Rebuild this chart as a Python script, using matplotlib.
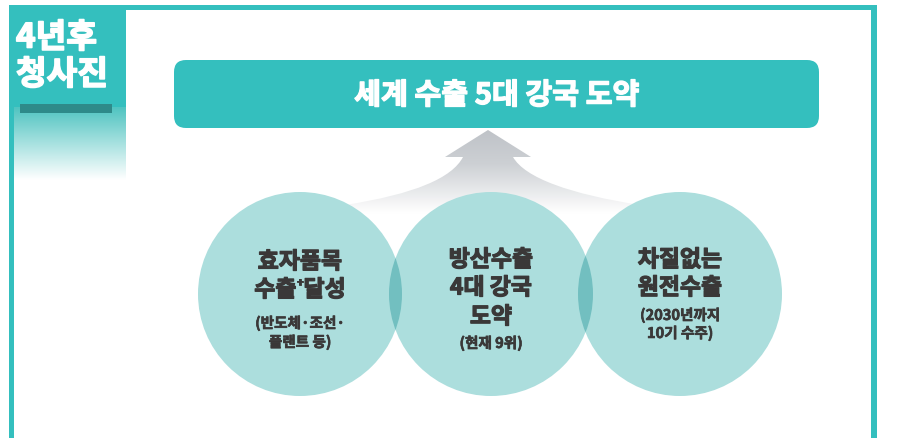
import numpy as np
import matplotlib
matplotlib.use("Agg")
import matplotlib.pyplot as plt
from matplotlib.patches import Rectangle, FancyBboxPatch, Circle, PathPatch
from matplotlib.path import Path
import matplotlib.patheffects as pe

plt.rcParams['font.family'] = ['Noto Sans CJK KR', 'DejaVu Sans']

# ---- content ----
corner_label = ["4년후", "청사진"]
title_text = "세계 수출 5대 강국 도약"
circle_main = [["효자품목", "수출⁺달성"],
               ["방산수출", "4대 강국", "도약"],
               ["차질없는", "원전수출"]]
circle_sub = [["(반도체·조선·", "플랜트 등)"],
              ["(현재 9위)"],
              ["(2030년까지", "10기 수주)"]]

TEAL = "#34bfbe"
DARK = "#3a3838"
CIRC = (172/255, 222/255, 221/255)
OVER = (114/255, 191/255, 192/255)

fig = plt.figure(figsize=(9.01, 4.38), dpi=100)
ax = fig.add_axes([0, 0, 1, 1])
ax.set_xlim(0, 901)
ax.set_ylim(438, 0)
ax.axis('off')


def heavy(color, w=0.9):
    return [pe.withStroke(linewidth=w, foreground=color)]


# frame
ax.add_patch(Rectangle((9, 5), 868, 5, color=TEAL, lw=0))
ax.add_patch(Rectangle((9, 5), 5, 440, color=TEAL, lw=0))
ax.add_patch(Rectangle((871, 5), 6, 440, color=TEAL, lw=0))

# corner block with gradient
ax.add_patch(Rectangle((9, 5), 117, 102, color=TEAL, lw=0))
n = 100
t = np.linspace(0, 1, n)[:, None]
c0 = np.array([80, 196, 193]) / 255
grad = (1 - t) * c0 + t * np.array([1, 1, 1])
grad = np.repeat(grad[:, None, :], 2, axis=1)
ax.imshow(grad, extent=(14, 126, 180, 107), origin='upper', aspect='auto',
          interpolation='bilinear', zorder=1)
ax.add_patch(Rectangle((20, 104), 92, 9, color="#2e8a89", lw=0, zorder=2))
ax.text(16, 38, corner_label[0], color='white', fontsize=24, fontweight='black',
        ha='left', va='center', zorder=3, path_effects=heavy('white', 1.2))
ax.text(16, 75, corner_label[1], color='white', fontsize=24, fontweight='black',
        ha='left', va='center', zorder=3, path_effects=heavy('white', 1.2))

# title box
ax.add_patch(FancyBboxPatch((174, 60), 645, 68,
                            boxstyle="round,pad=0,rounding_size=12",
                            color=TEAL, lw=0, zorder=2))
ax.text(497, 95, title_text, color='white', fontsize=21, fontweight='black',
        ha='center', va='center', zorder=3, path_effects=heavy('white', 1.0))

# arrow with gradient
verts = [(488, 130), (531, 157), (513, 157),
         (525, 178), (570, 194), (640, 205),
         (790, 228), (790, 245), (190, 245), (190, 228),
         (345, 205),
         (415, 194), (452, 178), (463, 157),
         (445, 157), (488, 130)]
codes = [Path.MOVETO, Path.LINETO, Path.LINETO,
         Path.CURVE4, Path.CURVE4, Path.CURVE4,
         Path.LINETO, Path.LINETO, Path.LINETO, Path.LINETO,
         Path.LINETO,
         Path.CURVE4, Path.CURVE4, Path.CURVE4,
         Path.LINETO, Path.CLOSEPOLY]
arrow = PathPatch(Path(verts, codes), facecolor='none', edgecolor='none')
ax.add_patch(arrow)
t = np.linspace(0, 1, 200)[:, None]
top = np.array([190, 194, 199]) / 255
mid = np.array([205, 208, 212]) / 255
g = np.where(t < 0.4, top + (mid - top) * (t / 0.4),
             mid + (1 - mid) * np.clip((t - 0.4) / 0.55, 0, 1))
g = np.repeat(g[:, None, :], 2, axis=1)
im = ax.imshow(g, extent=(180, 800, 218, 128), origin='upper', aspect='auto',
               interpolation='bilinear', zorder=1.5)
im.set_clip_path(arrow)

# circles
centers = [300, 491, 680]
cy, r = 294, 102
patches = []
for cx in centers:
    p = Circle((cx, cy), r, facecolor=CIRC, edgecolor='none', zorder=3)
    ax.add_patch(p)
    patches.append(p)
for i in range(2):
    lens = Circle((centers[i + 1], cy), r, facecolor=OVER, edgecolor='none', zorder=3.5)
    ax.add_patch(lens)
    lens.set_clip_path(patches[i])

fig.canvas.draw()
renderer = fig.canvas.get_renderer()


def width_data(s, size):
    tt = ax.text(0, 0, s, fontsize=size, fontweight='black')
    bb = tt.get_window_extent(renderer)
    tt.remove()
    inv = ax.transData.inverted()
    return inv.transform((bb.x1, 0))[0] - inv.transform((bb.x0, 0))[0]


main_y = [[262, 290], [260, 288, 317], [260, 288]]
sub_y = [[323, 342], [343], [315, 333]]
MS, SS = 16.5, 10.5
for i, cx in enumerate(centers):
    for s, y in zip(circle_main[i], main_y[i]):
        if '⁺' in s:
            a, b = s.split('⁺')
            wa, wb = width_data(a, MS), width_data(b, MS)
            wp = 7
            x0 = cx - (wa + wp + wb) / 2
            ax.text(x0, y, a, color=DARK, fontsize=MS, fontweight='black',
                    ha='left', va='center', zorder=5, path_effects=heavy(DARK))
            ax.text(x0 + wa + wp / 2, y - 7, '+', color=DARK, fontsize=9,
                    fontweight='black', ha='center', va='center', zorder=5,
                    path_effects=heavy(DARK, 0.6))
            ax.text(x0 + wa + wp, y, b, color=DARK, fontsize=MS, fontweight='black',
                    ha='left', va='center', zorder=5, path_effects=heavy(DARK))
        else:
            ax.text(cx, y, s, color=DARK, fontsize=MS, fontweight='black',
                    ha='center', va='center', zorder=5, path_effects=heavy(DARK))
    for s, y in zip(circle_sub[i], sub_y[i]):
        ax.text(cx, y, s, color=DARK, fontsize=SS, fontweight='black',
                ha='center', va='center', zorder=5, path_effects=heavy(DARK, 0.5))

fig.savefig("out.png", dpi=100)
